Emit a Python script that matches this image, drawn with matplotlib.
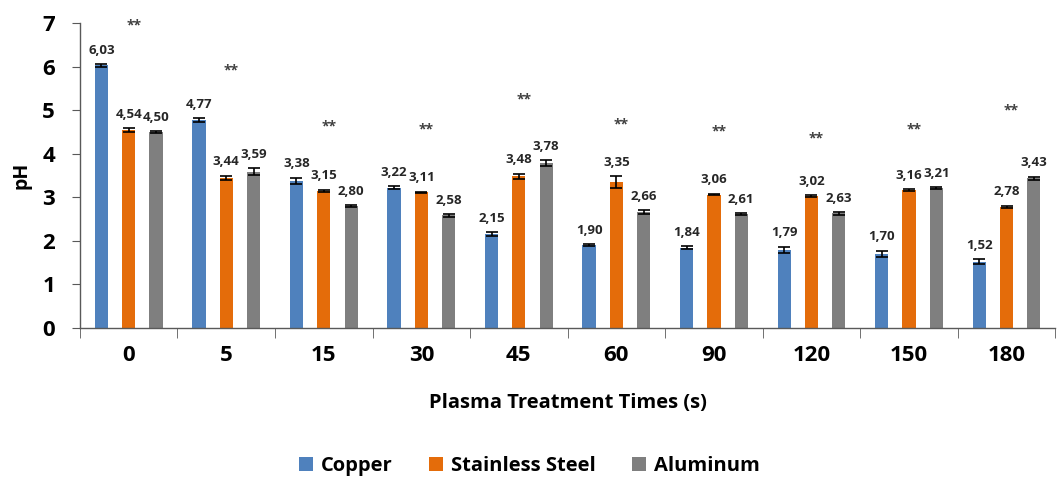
import numpy as np
import matplotlib.pyplot as plt
from matplotlib.patches import Patch

plt.rcParams['font.family'] = ['Open Sans', 'DejaVu Sans']

times = ['0', '5', '15', '30', '45', '60', '90', '120', '150', '180']
copper = [6.03, 4.77, 3.38, 3.22, 2.15, 1.90, 1.84, 1.79, 1.70, 1.52]
steel = [4.54, 3.44, 3.15, 3.11, 3.48, 3.35, 3.06, 3.02, 3.16, 2.78]
aluminum = [4.50, 3.59, 2.80, 2.58, 3.78, 2.66, 2.61, 2.63, 3.21, 3.43]
copper_err = [0.03, 0.05, 0.07, 0.03, 0.04, 0.02, 0.03, 0.07, 0.07, 0.05]
steel_err = [0.04, 0.05, 0.02, 0.02, 0.06, 0.13, 0.02, 0.02, 0.02, 0.02]
aluminum_err = [0.02, 0.07, 0.02, 0.03, 0.07, 0.04, 0.02, 0.03, 0.02, 0.04]
# height of the "**" significance marks per group
star_y = [6.95, 5.92, 4.63, 4.56, 5.25, 4.68, 4.52, 4.36, 4.56, 5.00]

colors = ['#4F81BD', '#E46C0A', '#7F7F7F']
names = ['Copper', 'Stainless Steel', 'Aluminum']

fig = plt.figure(figsize=(10.59, 4.8), dpi=100)
ax = fig.add_axes([0.0755, 0.317, 0.921, 0.635])

x = np.arange(len(times))
width = 0.135
offsets = [-0.28, 0.0, 0.28]
series = [copper, steel, aluminum]
errors = [copper_err, steel_err, aluminum_err]

for vals, errs, off, col in zip(series, errors, offsets, colors):
    ax.bar(x + off, vals, width, color=col, yerr=errs, capsize=4,
           error_kw=dict(ecolor='black', elinewidth=1.2, capthick=1.2), zorder=2)
    for xi, v, e in zip(x + off, vals, errs):
        ax.text(xi, v + e + 0.32, f'{v:.2f}'.replace('.', ','), ha='center', va='center',
                fontsize=9.5, fontweight='bold', color='#262626')

for xi, sy in zip(x, star_y):
    ax.text(xi + 0.05, sy, '**', ha='center', va='center', fontsize=10,
            fontweight='bold', color='#404040')

ax.set_xlim(-0.5, len(times) - 0.5)
ax.set_ylim(0, 7)
ax.set_yticks(range(0, 8))
ax.tick_params(axis='y', labelsize=16, length=6, pad=12, color='#595959')
for lbl in ax.get_yticklabels():
    lbl.set_fontweight('bold')

ax.set_xticks(x)
ax.set_xticklabels(times, fontsize=16, fontweight='bold')
ax.tick_params(axis='x', length=0, pad=12)
ax.set_xticks(np.arange(-0.5, len(times), 1.0), minor=True)
ax.tick_params(axis='x', which='minor', length=7, color='#595959')

for side in ['top', 'right']:
    ax.spines[side].set_visible(False)
for side in ['left', 'bottom']:
    ax.spines[side].set_color('#595959')
    ax.spines[side].set_linewidth(1.0)

ax.set_ylabel('pH', fontsize=14, fontweight='bold', labelpad=8)
ax.set_xlabel('Plasma Treatment Times (s)', fontsize=14.5, fontweight='bold', labelpad=20)

handles = [Patch(facecolor=c, label=n) for c, n in zip(colors, names)]
fig.legend(handles=handles, loc='center', bbox_to_anchor=(0.5, 0.03), ncol=3,
           frameon=False, prop=dict(size=14.5, weight='bold'), handlelength=0.7,
           handleheight=0.7, handletextpad=0.4, columnspacing=1.8)

fig.savefig('out.png', dpi=100)
